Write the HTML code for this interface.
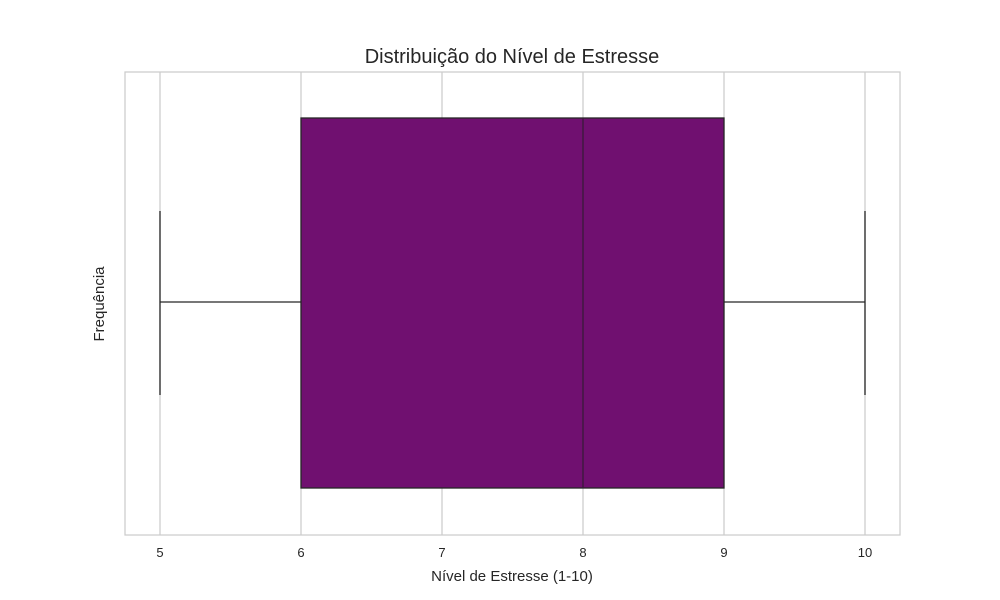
<!DOCTYPE html>
<html><head><meta charset="utf-8"><style>body{margin:0;background:#fff}svg{display:block;font-family:"Liberation Sans",sans-serif}</style></head>
<body>
<svg id="chart" width="1000" height="600" xmlns="http://www.w3.org/2000/svg">
<rect width="1000" height="600" fill="#fff"/>
<g id="grid"></g>
<rect x="125" y="72" width="775" height="463" fill="none" stroke="#cccccc" stroke-width="1.25"/>
<g id="box"></g>
<g id="ticks"></g>
<text x="512" y="63" text-anchor="middle" font-size="20" fill="#262626">Distribuição do Nível de Estresse</text>
<text x="512" y="581" text-anchor="middle" font-size="15" fill="#262626">Nível de Estresse (1-10)</text>
<text transform="translate(104,304) rotate(-90)" text-anchor="middle" font-size="15" fill="#262626">Frequência</text>
</svg>
<script>
const tickValues=[5,6,7,8,9,10];
const stats=[5,6,8,9,10]; // min, q1, median, q3, max
const NS="http://www.w3.org/2000/svg";
const xs=v=>160+(v-5)*141;
const boxTop=118,boxBot=488,midY=302,capTop=211,capBot=395;
function mk(t,a,p){const e=document.createElementNS(NS,t);for(const k in a)e.setAttribute(k,a[k]);p.appendChild(e);return e;}
const g=document.getElementById('grid'),tk=document.getElementById('ticks'),bx=document.getElementById('box');
tickValues.forEach(v=>{
 const l=mk('line',{x1:xs(v),x2:xs(v),y1:72,y2:535,stroke:'#cccccc','stroke-width':1.25},g);
 
 
 const t=mk('text',{x:xs(v),y:557,'text-anchor':'middle','font-size':13,fill:'#262626'},tk);
 t.textContent=v;
 
 
});
const [mn,q1,md,q3,mx]=stats;
let e;
e=mk('line',{x1:xs(mn),x2:xs(q1),y1:midY,y2:midY,stroke:'#262626','stroke-width':1.3},bx);


e=mk('line',{x1:xs(q3),x2:xs(mx),y1:midY,y2:midY,stroke:'#262626','stroke-width':1.3},bx);


e=mk('line',{x1:xs(mn),x2:xs(mn),y1:capTop,y2:capBot,stroke:'#262626','stroke-width':1.3},bx);


e=mk('line',{x1:xs(mx),x2:xs(mx),y1:capTop,y2:capBot,stroke:'#262626','stroke-width':1.3},bx);


e=mk('rect',{x:xs(q1),y:boxTop,width:xs(q3)-xs(q1),height:boxBot-boxTop,fill:'#701070',stroke:'#262626','stroke-width':1.3},bx);


e=mk('line',{x1:xs(md),x2:xs(md),y1:boxTop,y2:boxBot,stroke:'#3a1a3a','stroke-width':1.3},bx);


</script>
</body></html>
